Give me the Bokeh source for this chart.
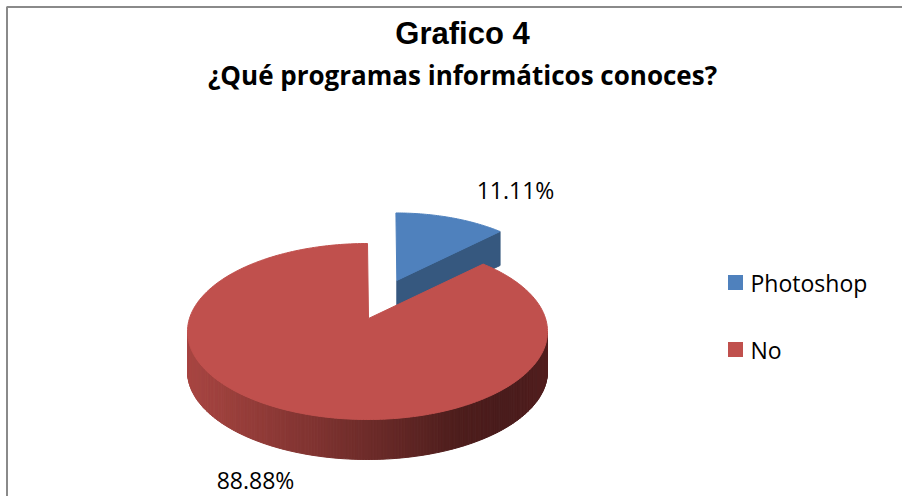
import numpy as np
from bokeh.plotting import figure
from bokeh.models import Range1d
from bokeh.embed import file_html
from bokeh.resources import INLINE
from bokeh.core.properties import value

# ---- data ----
categories = ["Photoshop", "No"]
percent = [11.11, 88.88]
labels = ["11.11%", "88.88%"]
top_colors = ["#4F81BD", "#C0504D"]
side_colors = ["#36587F", "#8E3A37"]
title = "Grafico 4"
subtitle = "¿Qué programas informáticos conoces?"

# ---- layout constants ----
W, H = 902, 496
cx, cy = 367.0, 331.0
rx, ry = 180.0, 88.0
apex = np.array([368.0, 318.0])
depth_red = 40.0
depth_blue = 34.0
explode = 0.46
blue_scale = 0.9

p = figure(width=W, height=H, x_range=Range1d(0, W), y_range=Range1d(H, 0),
           output_backend="svg", toolbar_location=None, min_border=0,
           x_axis_type=None, y_axis_type=None)
p.grid.visible = False
p.outline_line_color = None
p.background_fill_color = "white"
p.border_fill_color = "white"


def ept(theta_deg):
    t = np.radians(theta_deg)
    return np.stack([cx + rx * np.cos(t), cy - ry * np.sin(t)], axis=-1)


total = sum(percent)
angles = []
start = 90.0
for v in percent:
    end = start - 360.0 * v / total
    angles.append((start, end))
    start = end

# ---- Photoshop slice (exploded, drawn first: it lies behind) ----
b_start, b_end = angles[0]
mid = np.radians((b_start + b_end) / 2)
offset = explode * np.array([rx * np.cos(mid), -ry * np.sin(mid)])
apex_b = apex + offset
arc_b = ept(np.linspace(b_start, b_end, 60))
arc_b = apex_b + blue_scale * (arc_b - apex)
corner = arc_b[-1]
p.patch([apex_b[0], corner[0], corner[0], apex_b[0]],
        [apex_b[1], corner[1], corner[1] + depth_blue, apex_b[1] + depth_blue],
        fill_color=side_colors[0], line_color=side_colors[0], line_width=1)
bx = np.concatenate([[apex_b[0]], arc_b[:, 0]])
by = np.concatenate([[apex_b[1]], arc_b[:, 1]])
p.patch(bx, by, fill_color=top_colors[0], line_color=top_colors[0], line_width=1)

# ---- No slice ----
r_start, r_end = angles[1]
thetas = np.linspace(0, -180, 181)
pts = ept(thetas)
xs, ys, cols = [], [], []
stops_t = [0.0, 0.25, 0.5, 0.75, 0.88, 1.0]
stops_r = [168, 140, 110, 78, 74, 82]
stops_g = [70, 57, 44, 30, 28, 31]
stops_b = [66, 54, 42, 29, 28, 31]
for i in range(len(thetas) - 1):
    a, b = pts[i], pts[i + 1]
    xs.append([a[0], b[0], b[0], a[0]])
    ys.append([a[1], b[1], b[1] + depth_red, a[1] + depth_red])
    t = ((a[0] + b[0]) / 2 - (cx - rx)) / (2 * rx)
    r = int(np.interp(t, stops_t, stops_r))
    g = int(np.interp(t, stops_t, stops_g))
    bb = int(np.interp(t, stops_t, stops_b))
    cols.append("#%02x%02x%02x" % (r, g, bb))
p.patches(xs, ys, fill_color=cols, line_color=cols, line_width=1)

arc_r = ept(np.linspace(r_start, r_end, 300))
rx_ = np.concatenate([[apex[0]], arc_r[:, 0]])
ry_ = np.concatenate([[apex[1]], arc_r[:, 1]])
p.patch(rx_, ry_, fill_color=top_colors[1], line_color=top_colors[1], line_width=1)

# ---- data labels ----
p.text(x=[515, 255], y=[189, 479], text=labels, text_align="center", text_baseline="middle",
       text_font=value("Open Sans"), text_font_size="23px", text_color="black")

# ---- titles ----
p.text(x=[462], y=[33], text=[title], text_align="center", text_baseline="middle",
       text_font=value("Liberation Sans"), text_font_style="bold", text_font_size="31px",
       text_color="black")
p.text(x=[462], y=[74], text=[subtitle], text_align="center", text_baseline="middle",
       text_font=value("Open Sans"), text_font_style="bold", text_font_size="26px",
       text_color="black")

# ---- legend ----
p.scatter(x=[735, 735], y=[282, 349], marker="square", size=15,
          fill_color=top_colors, line_color=None)
p.text(x=[750, 750], y=[282, 349], text=categories, text_align="left", text_baseline="middle",
       text_font=value("Open Sans"), text_font_size="23px", text_color="black")

# ---- border ----
p.line([6.5, 6.5, W], [H, 6.5, 6.5], line_color="#8a8a8a", line_width=2)

open("out.html", "w").write(file_html(p, INLINE))
